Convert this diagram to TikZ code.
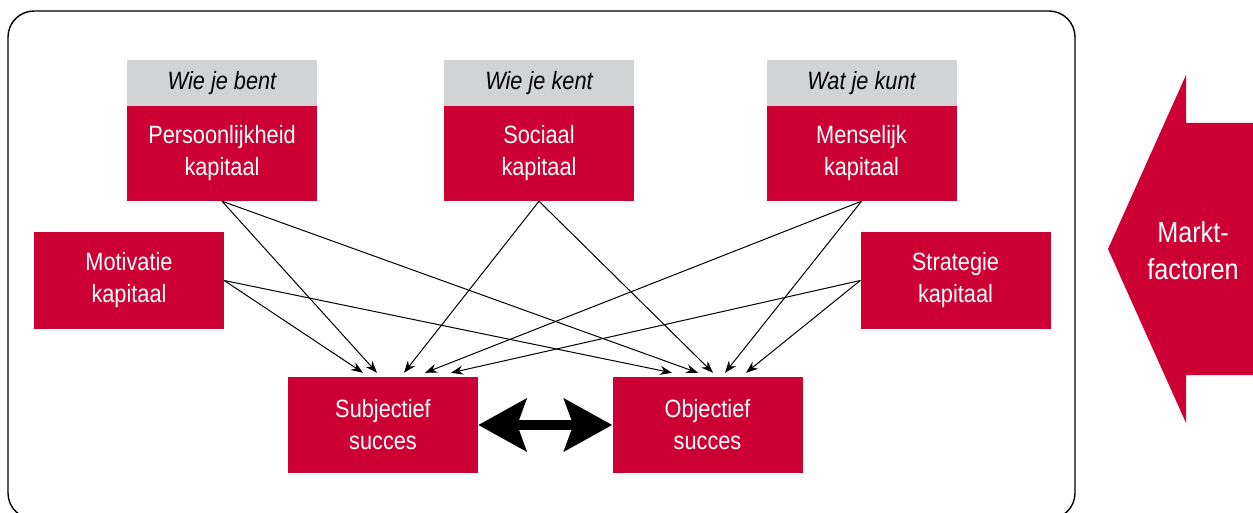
\documentclass[tikz,border=0pt]{standalone}
\usepackage{fontspec}
\setmainfont{Liberation Sans}[FakeStretch=0.87]
\usetikzlibrary{arrows.meta}
\definecolor{kapred}{RGB}{204,0,51}
\definecolor{kopgrey}{RGB}{209,211,212}

\begin{document}
\begin{tikzpicture}[x=1pt, y=-1pt,
    kapbox/.style={fill=kapred, text=white, minimum width=190pt, minimum height=96pt,
      inner sep=0pt, align=center, font=\fontsize{25}{32}\selectfont},
    kopbox/.style={fill=kopgrey, minimum width=190pt, minimum height=46pt,
      inner sep=0pt, font=\fontsize{25}{30}\selectfont\itshape},
    pijl/.style={-{Stealth[length=12pt,width=9pt]}, line width=1pt},
    dubbel/.style={{Stealth[length=48pt,width=52pt,inset=9pt]}-{Stealth[length=48pt,width=52pt,inset=9pt]}, line width=10pt}]
    \useasboundingbox (0,0) rectangle (1253,513);
    \clip (0,0) rectangle (1253,513);
    % 枠
    \draw[line width=1.4pt, rounded corners=26pt] (8,11) rectangle (1075,519);
    % 上段
    \node[kopbox] (perskop) at (222,83) {Wie je bent};
    \node[kapbox, minimum height=95pt] (pers) at (222,153.5) {Persoonlijkheid\\kapitaal};
    \node[kopbox] (sockop) at (539,83) {Wie je kent};
    \node[kapbox, minimum height=95pt] (soc) at (539,153.5) {Sociaal\\kapitaal};
    \node[kopbox] (menskop) at (861.5,83) {Wat je kunt};
    \node[kapbox, minimum height=95pt] (mens) at (861.5,153.5) {Menselijk\\kapitaal};
    % 中段
    \node[kapbox, minimum height=97pt] (motiv) at (129,280.5) {Motivatie\\kapitaal};
    \node[kapbox, minimum height=97pt] (strat) at (955.5,280.5) {Strategie\\kapitaal};
    % 下段
    \node[kapbox] (subj) at (383,425) {Subjectief\\succes};
    \node[kapbox] (obj) at (707.5,425) {Objectief\\succes};
    % 矢印
    \foreach \bron/\dx in {motiv.east/-20, pers.south/-6, soc.south/21, mens.south/42, strat.west/68}
      \draw[pijl] (\bron) -- ([xshift=\dx pt, yshift=4pt]subj.north);
    \foreach \bron/\dx in {motiv.east/-35.5, pers.south/-9.5, soc.south/5.5, mens.south/17.5, strat.west/38.5}
      \draw[pijl] (\bron) -- ([xshift=\dx pt, yshift=4pt]obj.north);
    \draw[dubbel] (subj.east) -- (obj.west);
    % 市場要因
    \fill[kapred] (1253,123) -- (1186,123) -- (1186,75) -- (1108,249) -- (1186,423)
      -- (1186,375) -- (1253,375) -- cycle;
    \node[text=white, align=center, font=\fontsize{29}{37}\selectfont] (markt) at (1193,251) {Markt-\\factoren};
  \end{tikzpicture}
\end{document}
